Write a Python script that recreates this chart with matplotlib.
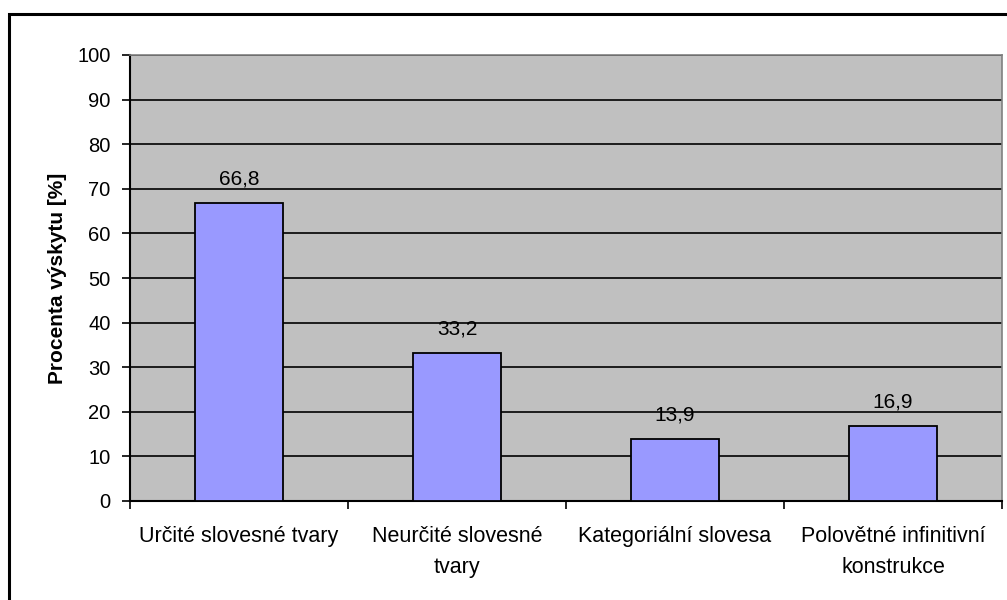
import numpy as np
import matplotlib.pyplot as plt
from matplotlib.patches import Rectangle

plt.rcParams['font.family'] = ['Liberation Sans', 'DejaVu Sans']

# --- Daten ---
categories = ["Určité slovesné tvary", "Neurčité slovesné\ntvary",
              "Kategoriální slovesa", "Polovětné infinitivní\nkonstrukce"]
values = [66.8, 33.2, 13.9, 16.9]
value_labels = ["66,8", "33,2", "13,9", "16,9"]
y_ticks = [0, 10, 20, 30, 40, 50, 60, 70, 80, 90, 100]

FS = 15

fig = plt.figure(figsize=(10.07, 6.0), dpi=100)
ax = fig.add_axes([130 / 1007, 1 - 501 / 600, 872 / 1007, 446 / 600])

# Rahmen um das Diagramm (nur links/oben sichtbar)
fig.patches.append(Rectangle((9 / 1007, -0.1), 1.1, 1.1 - 14 / 600,
                             transform=fig.transFigure, fill=False,
                             edgecolor='black', linewidth=2.2))

ax.set_facecolor('#C0C0C0')
x = np.arange(len(categories))
ax.set_axisbelow(True)
ax.yaxis.grid(True, color='black', linewidth=1.2)
ax.bar(x, values, width=0.405, color='#9999FF', edgecolor='black', linewidth=1.3, zorder=3)

for xi, v, lab in zip(x, values, value_labels):
    ax.text(xi, v + 3.2, lab, ha='center', va='bottom', fontsize=FS)

ax.set_xlim(-0.5, len(categories) - 0.5)
ax.set_ylim(0, 100)
ax.set_yticks(y_ticks)
ax.tick_params(axis='y', labelsize=FS - 0.5, length=6, width=1.2, direction='out', pad=8)

ax.set_xticks(np.arange(len(categories) + 1) - 0.5)
ax.set_xticklabels([])
ax.tick_params(axis='x', length=6, width=1.2, direction='out')
ax.set_xticks(x, minor=True)
ax.set_xticklabels(categories, minor=True, fontsize=FS + 0.5, linespacing=1.65)
ax.tick_params(axis='x', which='minor', length=0, pad=18)

for s in ['left', 'bottom']:
    ax.spines[s].set_color('black')
    ax.spines[s].set_linewidth(1.5)
for s in ['top', 'right']:
    ax.spines[s].set_color('#808080')
    ax.spines[s].set_linewidth(1.2)

ax.set_ylabel('Procenta výskytu [%]', fontsize=FS, fontweight='bold', labelpad=7)

fig.savefig('out.png', dpi=100)
